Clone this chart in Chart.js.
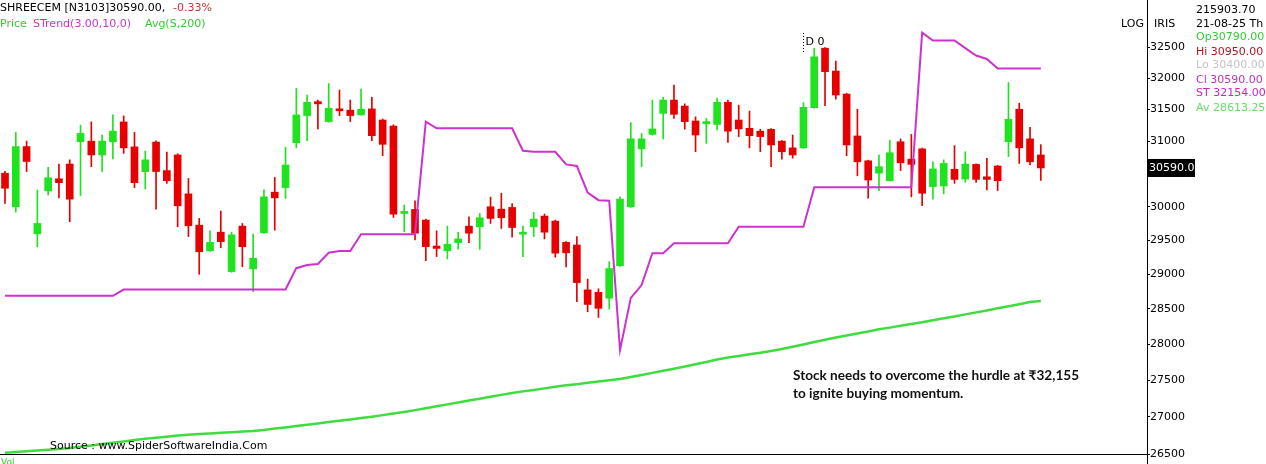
<!DOCTYPE html>
<html>
<head>
<meta charset="utf-8">
<script src="https://cdn.jsdelivr.net/npm/chart.js@4/dist/chart.umd.min.js"></script>
<style>
  html, body { margin: 0; padding: 0; background: #fff; }
  #wrap { width: 1266px; height: 464px; position: relative; }
</style>
</head>
<body>
<div id="wrap"><canvas id="price-plot"></canvas></div>
<script>
// SHREECEM daily candles
const opens = [30510,30000,30920,29595,30240,30425,30650,30995,31005,30790,
  30995,31305,30915,30535,30990,30550,30790,30195,29725,29345,
  29620,29040,29710,29080,29610,30220,30290,30980,31405,31625,
  31310,31505,31490,31415,31510,31335,31240,29900,29960,29800,
  29415,29345,29465,29710,29700,30000,29965,29990,29590,29700,
  29860,29785,29470,29430,28775,28740,28655,29125,30000,30885,
  31110,31440,31650,31555,31320,31275,31265,31615,31335,31205,
  31160,31190,31005,30900,30900,31530,32485,32115,31745,31085,
  30700,30510,30395,30995,30725,30885,30305,30315,30570,30420,
  30645,30455,30620,30995,31505,31040,30790];
const highs = [30540,31140,31005,30255,30600,30650,30715,31255,31305,31100,
  31415,31400,31140,30850,31010,30835,30810,30430,29825,29640,
  29935,29620,29750,29590,30255,30445,30910,31835,31730,31650,
  31915,31810,31650,31825,31695,31350,31260,30025,30090,29815,
  29640,29710,29620,29850,29900,30145,30205,30050,29710,29915,
  29890,29800,29480,29555,28930,28790,29185,30150,31295,31125,
  31650,31695,31890,31590,31385,31360,31680,31650,31570,31475,
  31190,31200,31015,31100,31610,32485,32495,32275,31760,31505,
  30710,30790,31020,31040,31110,30895,30685,30715,30935,30840,
  30655,30740,30630,31930,31600,31220,30950];
const lows = [30050,29920,30535,29405,30180,30135,29775,30170,30610,30535,
  30730,30815,30290,30270,29965,30355,29700,29555,29000,29335,
  29390,29030,29110,28750,29600,29650,30125,30900,31010,31195,
  31300,31405,31310,31410,31010,30780,29840,29625,29505,29200,
  29260,29225,29370,29465,29365,29750,29675,29545,29260,29555,
  29520,29250,29110,28605,28460,28380,28500,29115,29990,30610,
  31100,31040,31360,31190,30840,30970,31180,30985,31075,30900,
  30840,30610,30725,30740,30890,31520,31560,31665,30780,30470,
  30130,30245,30390,30550,30150,30015,30115,30195,30355,30370,
  30370,30255,30245,30765,30660,30635,30400];
const closes = [30280,30920,30690,29750,30440,30365,30115,31125,30790,31005,
  31160,30900,30365,30715,30535,30395,30015,29715,29330,29470,
  29480,29580,29405,29235,30150,30135,30635,31415,31615,31590,
  31520,31480,31405,31505,31090,30955,29890,29910,29605,29405,
  29380,29440,29520,29605,29835,29825,29835,29690,29620,29815,
  29620,29310,29315,28880,28565,28510,29085,30115,31040,31040,
  31195,31650,31425,31310,31100,31310,31615,31160,31195,31090,
  31075,30945,30840,30790,31535,32345,32105,31730,30945,30685,
  30405,30610,30825,30670,30645,30205,30575,30660,30415,30650,
  30415,30415,30395,31345,30900,30685,30590];

// STrend(3.00,10,0)
const stTrend = [28690,28690,28690,28690,28690,28690,28690,28690,28690,28690,
  28690,28780,28780,28780,28780,28780,28780,28780,28780,28780,
  28780,28780,28780,28780,28780,28780,28780,29090,29135,29150,
  29315,29340,29340,29590,29590,29590,29590,29590,29590,31310,
  31205,31205,31205,31205,31205,31205,31205,31205,30855,30840,
  30840,30840,30645,30620,30215,30100,30090,27920,28660,28845,
  29310,29310,29455,29455,29455,29455,29455,29455,29700,29700,
  29700,29700,29700,29700,29700,30295,30295,30295,30295,30295,
  30295,30295,30295,30295,30295,32740,32610,32610,32610,32485,
  32365,32310,32154,32154,32154,32154,32154];

// Avg(S,200)
const avg200 = [26516,26525,26536,26547,26557,26568,26579,26597,26614,26632,
  26650,26668,26686,26702,26717,26731,26746,26758,26766,26775,
  26784,26792,26800,26809,26822,26840,26856,26874,26891,26909,
  26928,26945,26964,26982,27001,27022,27043,27065,27090,27116,
  27142,27168,27194,27220,27246,27272,27298,27324,27346,27366,
  27387,27409,27429,27445,27463,27481,27498,27515,27544,27572,
  27601,27630,27659,27690,27721,27753,27786,27814,27836,27860,
  27882,27906,27933,27965,27998,28031,28063,28095,28123,28153,
  28181,28211,28235,28261,28286,28312,28339,28367,28394,28423,
  28452,28480,28510,28539,28569,28599,28613.25];

const yTicks = [26500,27000,27500,28000,28500,29000,29500,30000,30500,31000,31500,32000,32500];

const UP = '#1ee31e';
const DOWN = '#e60000';
const FONT = "'DejaVu Sans', sans-serif";

const candleColors = opens.map((o, i) => closes[i] >= o ? UP : DOWN);

const wickData = lows.map((l, i) => ({ x: i, y: [l, highs[i]] }));
const bodyData = opens.map((o, i) => ({ x: i, y: [o, closes[i]] }));
const stData = stTrend.map((v, i) => ({ x: i, y: v }));
const avgData = avg200.map((v, i) => ({ x: i, y: v }));

// texts on top of the chart
const overlay = {
  id: 'overlay',
  afterDraw(chart) {
    const ctx = chart.ctx;
    const yScale = chart.scales.y;
    const xScale = chart.scales.x;
    ctx.save();
    ctx.textBaseline = 'middle';
    ctx.textAlign = 'left';
    ctx.font = '11px ' + FONT;

    // header
    ctx.fillStyle = '#000';
    ctx.fillText('SHREECEM [N3103]30590.00,', 0, 8);
    ctx.fillStyle = '#cc3333';
    ctx.fillText('-0.33%', 173, 8);
    ctx.fillStyle = '#33cc33';
    ctx.fillText('Price', 0, 24);
    ctx.fillStyle = '#cc33cc';
    ctx.fillText('STrend(3.00,10,0)', 33, 24);
    ctx.fillStyle = '#33cc33';
    ctx.fillText('Avg(S,200)', 145, 24);

    // right panel
    ctx.fillStyle = '#000';
    ctx.fillText('LOG', 1121, 24);
    ctx.fillText('IRIS', 1154, 24);
    ctx.fillText('215903.70', 1196, 10);
    ctx.fillText('21-08-25 Th', 1196, 24);
    const info = [
      ['Op30790.00', '#33cc33', 37],
      ['Hi 30950.00', '#aa1a1a', 52],
      ['Lo 30400.00', '#c4c4c4', 65],
      ['Cl 30590.00', '#bb33bb', 80],
      ['ST 32154.00', '#cc22cc', 93],
      ['Av 28613.25', '#66dd66', 108]
    ];
    info.forEach(([t, c, y]) => {
      ctx.fillStyle = c;
      ctx.fillText(t, 1196, y);
    });

    // last price box
    const last = closes[closes.length - 1];
    const ly = yScale.getPixelForValue(last);
    ctx.fillStyle = '#000';
    ctx.fillRect(1148, ly - 9, 47, 18);
    ctx.fillStyle = '#fff';
    ctx.fillText(last.toFixed(1), 1149, ly);

    // axis line runs to the bottom edge
    ctx.strokeStyle = '#000';
    ctx.lineWidth = 1;
    ctx.beginPath();
    ctx.moveTo(1147.5, 454);
    ctx.lineTo(1147.5, 464);
    ctx.stroke();

    // dividend marker
    const dx = Math.round(xScale.getPixelForValue(74)) + 0.5;
    ctx.setLineDash([1, 2]);
    ctx.beginPath();
    ctx.moveTo(dx, 33);
    ctx.lineTo(dx, 52);
    ctx.stroke();
    ctx.setLineDash([]);
    ctx.fillStyle = '#000';
    ctx.fillText('D 0', dx + 2, 42);

    // source + vol
    ctx.fillText('Source : www.SpiderSoftwareIndia.Com', 50, 446);
    ctx.fillStyle = '#33cc33';
    ctx.font = '9px ' + FONT;
    ctx.textBaseline = 'top';
    ctx.fillText('Vol', 1, 458);

    // comment
    ctx.fillStyle = '#111';
    ctx.textBaseline = 'middle';
    ctx.font = "bold 13.6px Lato, 'Noto Sans', sans-serif";
    ctx.fillText('Stock needs to overcome the hurdle at \u20B932,155', 793, 376);
    ctx.fillText('to ignite buying momentum.', 793, 394);
    ctx.restore();
  }
};

new Chart('price-plot', {
  type: 'bar',
  data: {
    datasets: [
      {
        type: 'line',
        data: stData,
        borderColor: '#cc33cc',
        borderWidth: 2,
        pointRadius: 0,
        tension: 0,
        order: 0
      },
      {
        type: 'line',
        data: avgData,
        borderColor: '#3fdc3f',
        borderWidth: 2.5,
        pointRadius: 0,
        tension: 0,
        order: 0
      },
      {
        data: bodyData,
        backgroundColor: candleColors,
        borderWidth: 0,
        barThickness: 7,
        minBarLength: 2,
        grouped: false,
        order: 1
      },
      {
        data: wickData,
        backgroundColor: candleColors,
        borderWidth: 0,
        barThickness: 1,
        grouped: false,
        order: 2
      }
    ]
  },
  options: {
    responsive: true,
    maintainAspectRatio: false,
    animation: false,
    layout: { padding: 0 },
    plugins: {
      legend: { display: false },
      tooltip: { enabled: false }
    },
    scales: {
      x: {
        type: 'linear',
        min: -0.4634,
        max: 105.84,
        offset: false,
        bounds: 'data',
        ticks: { display: false },
        grid: { display: false, drawTicks: false, offset: false },
        border: { display: true, color: '#000', width: 1 },
        afterFit(scale) {
          scale.height = 10;
          scale.paddingLeft = 0;
          scale.paddingRight = 0;
        }
      },
      y: {
        type: 'logarithmic',
        position: 'right',
        min: 26500,
        max: 33280,
        afterBuildTicks(scale) {
          scale.ticks = yTicks.map(v => ({ value: v }));
        },
        ticks: {
          color: '#000',
          padding: 0,
          font: { family: FONT, size: 11 },
          callback: v => String(v)
        },
        grid: {
          drawOnChartArea: false,
          drawTicks: true,
          tickLength: 3,
          color: '#000'
        },
        border: { display: true, color: '#000', width: 1 },
        afterFit(scale) {
          scale.width = 119;
          scale.paddingTop = 0;
          scale.paddingBottom = 0;
        }
      }
    }
  },
  plugins: [overlay]
});
</script>
</body>
</html>
